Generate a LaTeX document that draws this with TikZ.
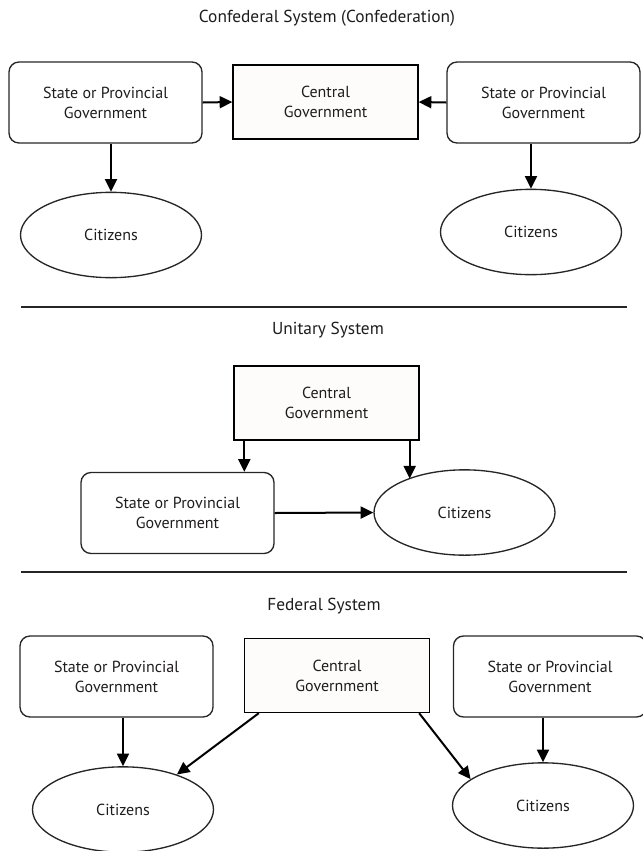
\documentclass[tikz,border=0pt]{standalone}
\usepackage{fontspec}
\setmainfont{PT Sans}
\usetikzlibrary{shapes.geometric,arrows.meta,calc}
\definecolor{txt}{RGB}{30,28,28}
\definecolor{cfill}{RGB}{254,251,251}
\tikzset{
  lbl/.style={font=\fontsize{12}{15}\selectfont, text=txt, align=center},
  statebox/.style={lbl, draw=black!85, line width=1pt, rounded corners=7.5pt,
    minimum width=144.75pt, minimum height=60.75pt, inner sep=0pt},
  centralbox/.style={lbl, draw=black, line width=1pt, fill=cfill,
    minimum width=138.75pt, minimum height=55.5pt, inner sep=0pt},
  citizen/.style={lbl, ellipse, draw=black!85, line width=1pt,
    minimum width=135.75pt, minimum height=64pt, inner sep=0pt},
  conn/.style={line width=1.5pt, -{Triangle[length=9.5pt,width=9pt]}},
  divider/.style={line width=1.6pt, black!85},
  ttl/.style={lbl, font=\fontsize{13}{15}\selectfont}
}
\begin{document}
\begin{tikzpicture}[x=0.75pt,y=-0.75pt]
\useasboundingbox (0,0) rectangle (643,851);
% ---------- Confederal ----------
\node[ttl] (t1) at (327,18) {Confederal System (Confederation)};
\node[statebox] (s1L) at (105.5,102.5) {State or Provincial\\Government};
\node[centralbox] (c1) at (325.5,102) {Central\\Government};
\node[statebox] (s1R) at (543.5,102.5) {State or Provincial\\Government};
\node[citizen] (e1L) at (111,235) {Citizens};
\node[citizen] (e1R) at (531,232) {Citizens};
\draw[conn] (s1L.east) -- (c1.west);
\draw[conn] (s1R.west) -- (c1.east);
\draw[conn] (e1L.north |- s1L.south) -- (e1L.north);
\draw[conn] (e1R.north |- s1R.south) -- (e1R.north);
% ---------- Unitary ----------
\coordinate (d1a) at (21,307);
\coordinate (d1b) at (627,307);
\draw[divider] (d1a) -- (d1b);
\node[ttl] (t2) at (328,330) {Unitary System};
\node[centralbox] (c2) at (326.5,403) {Central\\Government};
\node[statebox] (s2) at (177.5,513) {State or Provincial\\Government};
\node[citizen] (e2) at (464.5,512.5) {Citizens};
\coordinate (c2a) at ($(c2.south west)+(11,0)$);
\coordinate (c2b) at ($(c2.south east)+(-10,0)$);
\draw[conn] (c2a) -- (c2a |- s2.north);
\draw[conn] (c2b) -- (c2b |- e2.149);
\draw[conn] (s2.east) -- (e2.west);
% ---------- Federal ----------
\coordinate (d2a) at (21,572);
\coordinate (d2b) at (627,572);
\draw[divider] (d2a) -- (d2b);
\node[ttl] (t3) at (324,606) {Federal System};
\node[statebox] (s3L) at (116.5,676.5) {State or Provincial\\Government};
\node[centralbox] (c3) at (337,675.5) {Central\\Government};
\node[statebox] (s3R) at (550,676.5) {State or Provincial\\Government};
\node[citizen] (e3L) at (123,809.5) {Citizens};
\node[citizen] (e3R) at (543,805.5) {Citizens};
\draw[conn] (e3L.north |- s3L.south) -- (e3L.north);
\draw[conn] (e3R.north |- s3R.south) -- (e3R.north);
\coordinate (c3a) at ($(c3.south west)+(15,0)$);
\coordinate (c3b) at ($(c3.south east)+(-11,0)$);
\draw[conn] (c3a) -- (e3L.33);
\draw[conn] (c3b) -- (e3R.160);
\end{tikzpicture}
\end{document}
